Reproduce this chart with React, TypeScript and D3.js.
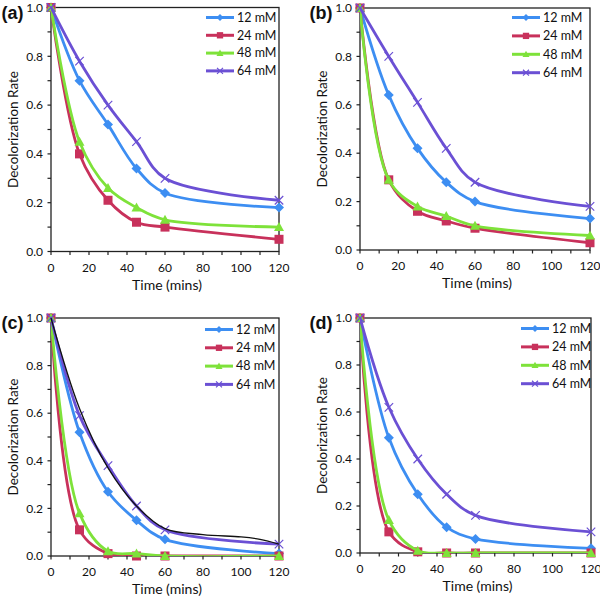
import React, { useEffect, useRef } from 'react';
import * as d3 from 'd3';

// sampling times (mins)
const times = [0, 15, 30, 45, 60, 120];
const seriesNames = ['12 mM', '24 mM', '48 mM', '64 mM'];
const xTicks = [0, 20, 40, 60, 80, 100, 120];
const yTicks = [0, 0.2, 0.4, 0.6, 0.8, 1.0];
const panelLabels = ['(a)', '(b)', '(c)', '(d)'];

// (a)
const a12 = [1.0, 0.70, 0.52, 0.34, 0.24, 0.18];
const a24 = [1.0, 0.40, 0.21, 0.12, 0.10, 0.05];
const a48 = [1.0, 0.45, 0.26, 0.18, 0.13, 0.10];
const a64 = [1.0, 0.78, 0.60, 0.45, 0.30, 0.21];
// (b)
const b12 = [1.0, 0.64, 0.42, 0.28, 0.20, 0.13];
const b24 = [1.0, 0.29, 0.16, 0.12, 0.09, 0.03];
const b48 = [1.0, 0.29, 0.18, 0.14, 0.10, 0.06];
const b64 = [1.0, 0.80, 0.61, 0.42, 0.28, 0.18];
// (c)
const c12 = [1.0, 0.52, 0.27, 0.15, 0.07, 0.01];
const c24 = [1.0, 0.11, 0.01, 0.0, 0.0, 0.0];
const c48 = [1.0, 0.18, 0.02, 0.01, 0.0, 0.0];
const c64 = [1.0, 0.59, 0.38, 0.21, 0.11, 0.05];
// black trend line in (c)
const cFitTimes = [0, 15, 30, 45, 60, 80, 100, 110, 120];
const cFitValues = [1.0, 0.62, 0.37, 0.21, 0.115, 0.09, 0.08, 0.07, 0.05];
// (d)
const d12 = [1.0, 0.49, 0.25, 0.11, 0.06, 0.02];
const d24 = [1.0, 0.09, 0.005, 0.0, 0.0, 0.0];
const d48 = [1.0, 0.14, 0.01, 0.0, 0.0, 0.0];
const d64 = [1.0, 0.62, 0.40, 0.25, 0.16, 0.09];

const colors = ['#3d8ef2', '#c8315b', '#7ee23a', '#6b50d4'];
const markers = ['diamond', 'square', 'triangle', 'cross'];
const font = 'Lato, "Open Sans", sans-serif';

const layouts = [
  { left: 51, right: 279, top: 7.5, bottom: 251.5, legX: 206, legY: 17.5, legDy: 17.8 },
  { left: 360, right: 590, top: 8, bottom: 250, legX: 512, legY: 17.5, legDy: 18.4 },
  { left: 51, right: 279, top: 318, bottom: 556, legX: 205, legY: 329.5, legDy: 18.3 },
  { left: 360, right: 591, top: 318, bottom: 553, legX: 521, legY: 328.5, legDy: 18.4 },
];

const panelSeries = [
  [a12, a24, a48, a64],
  [b12, b24, b48, b64],
  [c12, c24, c48, c64],
  [d12, d24, d48, d64],
];

function drawMarker(g, kind, x, y, r, color) {
  if (kind === 'diamond') {
    g.append('path')
      .attr('d', `M${x},${y - r}L${x + r},${y}L${x},${y + r}L${x - r},${y}Z`)
      .attr('fill', color);
  } else if (kind === 'square') {
    g.append('rect')
      .attr('x', x - r * 0.9).attr('y', y - r * 0.9)
      .attr('width', r * 1.8).attr('height', r * 1.8)
      .attr('fill', color);
  } else if (kind === 'triangle') {
    g.append('path')
      .attr('d', `M${x},${y - r}L${x + r},${y + r * 0.8}L${x - r},${y + r * 0.8}Z`)
      .attr('fill', color);
  } else {
    const s = r * 0.85;
    g.append('path')
      .attr('d', `M${x - s},${y - s}L${x + s},${y + s}M${x - s},${y + s}L${x + s},${y - s}`)
      .attr('stroke', color)
      .attr('stroke-width', 1.2)
      .attr('fill', 'none');
  }
}

export default function App() {
  const ref = useRef(null);

  useEffect(() => {
    const svg = d3.select(ref.current);
    svg.selectAll('*').remove();

    layouts.forEach((L, p) => {
      const x = d3.scaleLinear().domain([0, 120]).range([L.left, L.right]);
      const y = d3.scaleLinear().domain([0, 1]).range([L.bottom, L.top]);
      const g = svg.append('g');

      // clip for smoothed lines
      const clipId = 'clip' + p;
      svg.append('clipPath').attr('id', clipId)
        .append('rect')
        .attr('x', L.left).attr('y', L.top - 4)
        .attr('width', L.right - L.left).attr('height', L.bottom - L.top + 4);

      // frame
      g.append('rect')
        .attr('x', L.left).attr('y', L.top)
        .attr('width', L.right - L.left).attr('height', L.bottom - L.top)
        .attr('fill', 'none').attr('stroke', '#222').attr('stroke-width', 1.3);

      // x ticks (major + minor)
      d3.range(0, 121, 10).forEach(t => {
        g.append('line')
          .attr('x1', x(t)).attr('x2', x(t))
          .attr('y1', L.bottom).attr('y2', L.bottom + 3.5)
          .attr('stroke', '#222').attr('stroke-width', 1.2);
      });
      xTicks.forEach(t => {
        g.append('text')
          .attr('x', x(t)).attr('y', L.bottom + 20)
          .attr('text-anchor', 'middle')
          .attr('font-family', font).attr('font-size', 12)
          .attr('fill', '#111')
          .text(t);
      });
      // y ticks
      d3.range(0, 11).forEach(i => {
        const v = i / 10;
        g.append('line')
          .attr('x1', L.left - 3.5).attr('x2', L.left)
          .attr('y1', y(v)).attr('y2', y(v))
          .attr('stroke', '#222').attr('stroke-width', 1.2);
      });
      yTicks.forEach(v => {
        g.append('text')
          .attr('x', L.left - 8).attr('y', y(v))
          .attr('dy', '0.35em')
          .attr('text-anchor', 'end')
          .attr('font-family', font).attr('font-size', 12)
          .attr('fill', '#111')
          .text(d3.format('.1f')(v));
      });

      // axis titles
      g.append('text')
        .attr('transform', `translate(${L.left - 38},${(L.top + L.bottom) / 2}) rotate(-90)`)
        .attr('dy', '0.35em')
        .attr('text-anchor', 'middle')
        .attr('font-family', font).attr('font-size', 13.5)
        .attr('fill', '#111')
        .text('Decolorization Rate');
      g.append('text')
        .attr('x', (L.left + L.right) / 2 + 2).attr('y', L.bottom + 38)
        .attr('text-anchor', 'middle')
        .attr('font-family', font).attr('font-size', 14)
        .attr('fill', '#111')
        .text('Time (mins)');

      // panel label
      g.append('text')
        .attr('x', L.left - 27.5).attr('y', L.top + 11)
        .attr('text-anchor', 'end')
        .attr('font-family', 'Arial, "Liberation Sans", sans-serif')
        .attr('font-weight', 'bold').attr('font-size', 18)
        .attr('fill', '#111')
        .text(panelLabels[p]);

      const line = d3.line()
        .x(d => x(d[0]))
        .y(d => y(d[1]))
        .curve(d3.curveCatmullRom.alpha(0.5));

      panelSeries[p].forEach((vals, s) => {
        const pts = times.map((t, i) => [t, vals[i]]);
        g.append('path')
          .datum(pts)
          .attr('d', line)
          .attr('clip-path', `url(#${clipId})`)
          .attr('fill', 'none')
          .attr('stroke', colors[s])
          .attr('stroke-width', 2.8);
        pts.forEach(d => drawMarker(g, markers[s], x(d[0]), y(d[1]), 5, colors[s]));
      });

      if (p === 2) {
        const fit = cFitTimes.map((t, i) => [t, cFitValues[i]]);
        g.append('path')
          .datum(fit)
          .attr('d', line)
          .attr('fill', 'none')
          .attr('stroke', '#111')
          .attr('stroke-width', 1.3);
      }

      // legend
      seriesNames.forEach((name, s) => {
        const ly = L.legY + s * L.legDy;
        g.append('line')
          .attr('x1', L.legX).attr('x2', L.legX + 28)
          .attr('y1', ly).attr('y2', ly)
          .attr('stroke', colors[s]).attr('stroke-width', 3);
        drawMarker(g, markers[s], L.legX + 14, ly, 3.5, colors[s]);
        g.append('text')
          .attr('x', L.legX + 31).attr('y', ly)
          .attr('dy', '0.35em')
          .attr('font-family', font).attr('font-size', 12.5)
          .attr('fill', '#111')
          .text(name);
      });
    });
  }, []);

  return (
    <svg
      ref={ref}
      width={600}
      height={596}
      style={{ position: 'absolute', left: 0, top: 0, background: '#fff' }}
    />
  );
}
